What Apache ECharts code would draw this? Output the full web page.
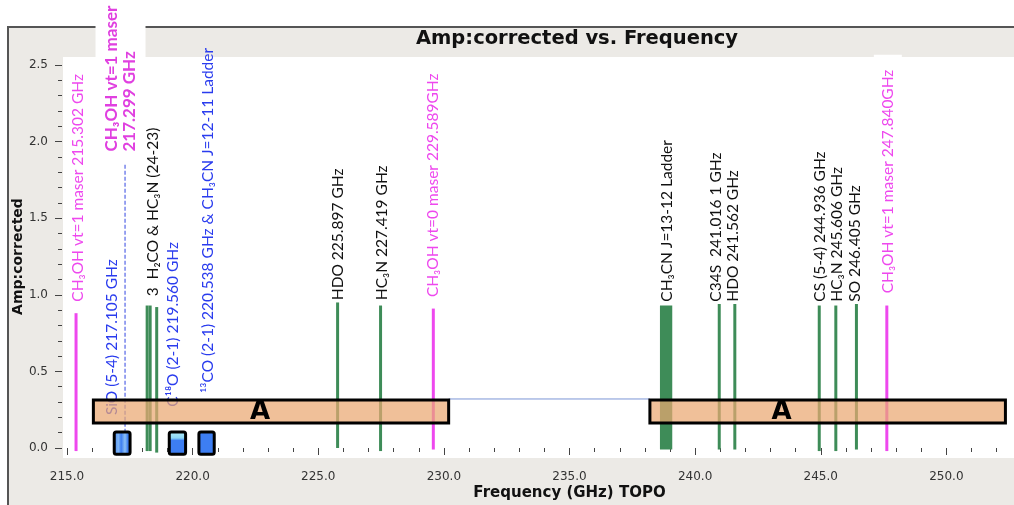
<!DOCTYPE html>
<html><head><meta charset="utf-8">
<script src="https://cdn.jsdelivr.net/npm/echarts@6/dist/echarts.min.js"></script>
<style>
html,body{margin:0;padding:0;background:#fff;}
#wrap{position:relative;width:1014px;height:505px;overflow:hidden;}
#panel{position:absolute;left:7px;top:26px;width:1007px;height:479px;background:#ECEAE6;border-top:2px solid #555;border-left:2px solid #555;box-sizing:border-box;}
#plotbg{position:absolute;left:63px;top:57px;width:951px;height:401px;background:#fff;}
#chart{position:absolute;left:0;top:0;width:1100px;height:505px;}
</style></head>
<body><div id="wrap"><div id="panel"></div><div id="plotbg"></div><div id="chart"></div></div>
<script>
// ---- data (frequency GHz, amplitude) ----
const xRange = [215, 255];   // axis range, tick step 5
const yRange = [0, 2.5];     // axis range, tick step 0.5
const magentaLines = [ // [freq, bottom, top]
  [215.36, -0.02, 0.88],
  [229.58, -0.01, 0.91],
  [247.63, -0.02, 0.93]
];
const greenLines = [
  [218.19, -0.02, 0.93],
  [218.31, -0.02, 0.93],
  [218.57, -0.03, 0.92],
  [225.77, 0.00, 0.95],
  [227.48, -0.02, 0.93],
  [240.96, -0.01, 0.94],
  [241.58, -0.01, 0.94],
  [244.94, -0.02, 0.93],
  [245.60, -0.02, 0.93],
  [246.42, -0.01, 0.94]
];
const greenBands = [[238.60, 239.09, -0.01, 0.93]]; // [f1, f2, bottom, top]
const dashedLines = [[217.31, 0.10, 1.86]];
const spwBoxes = [ // [f1, f2, bottom, top]
  [216.88, 217.51, -0.04, 0.105],
  [219.07, 219.72, -0.04, 0.105],
  [220.25, 220.86, -0.04, 0.105]
];
const bandBoxes = [
  [216.05, 230.19, 0.163, 0.314],
  [238.20, 252.35, 0.163, 0.314]
];
const bandNames = [[222.68, 0.235, 'A'], [243.44, 0.235, 'A']];
const bandLinks = [[230.19, 238.20, 0.32]]; // [f1, f2, amp]
const blackLabels = [ // [freq, amp at text start, text]
  [218.42, 0.99, '3  H₂CO & HC₃N (24-23)'],
  [225.78, 0.965, 'HDO 225.897 GHz'],
  [227.54, 0.965, 'HC₃N 227.419 GHz'],
  [238.88, 0.955, 'CH₃CN J=13-12 Ladder'],
  [240.83, 0.955, 'C34S  241.016 1 GHz'],
  [241.50, 0.955, 'HDO 241.562 GHz'],
  [244.96, 0.955, 'CS (5-4) 244.936 GHz'],
  [245.64, 0.955, 'HC₃N 245.606 GHz'],
  [246.36, 0.955, 'SO 246.405 GHz']
];
const blueLabels = [
  [216.78, 0.215, 'SiO (5-4) 217.105 GHz'],
  [219.22, 0.27, 'C¹⁸O (2-1) 219.560 GHz'],
  [220.61, 0.36, '¹³CO (2-1) 220.538 GHz & CH₃CN J=12-11 Ladder']
];
const magentaLabels = [
  [215.44, 0.955, 'CH₃OH vt=1 maser 215.302 GHz'],
  [229.56, 0.985, 'CH₃OH vt=0 maser 229.589GHz']
];
const boxedMagentaLabels = [
  [247.67, 1.01, 'CH₃OH vt=1 maser 247.840GHz']
];
const boldLabels = [
  [217.13, 1.935, 'CH₃OH vt=1 maser\n217.299 GHz']
];

// ---- styles ----
const GREEN = '#3E8C58', MAGENTA = '#EE48EE', BLUE = '#2A3CEE';
const LABEL_FONT = '15.5px Lato';
const spwFills = [
  {type: 'linear', x: 0, y: 0, x2: 1, y2: 0, colorStops: [
    {offset: 0, color: '#3D7EF2'}, {offset: 0.3, color: '#7FB6F6'}, {offset: 0.45, color: '#3D7EF2'},
    {offset: 0.65, color: '#8CC0F6'}, {offset: 0.8, color: '#3D7EF2'}, {offset: 1, color: '#3D7EF2'}]},
  {type: 'linear', x: 0, y: 0, x2: 0, y2: 1, colorStops: [
    {offset: 0, color: '#B8F0FA'}, {offset: 0.3, color: '#8ED8F5'}, {offset: 0.4, color: '#3D7EF2'}, {offset: 1, color: '#3D7EF2'}]},
  '#3D7EF2'
];

function vlineSeries(arr, color, width, z, dash) {
  return {
    type: 'custom', coordinateSystem: 'cartesian2d', clip: false, silent: true, z: z,
    data: arr,
    renderItem(params, api) {
      const a = api.coord([api.value(0), api.value(1)]);
      const b = api.coord([api.value(0), api.value(2)]);
      return {type: 'line', shape: {x1: a[0], y1: a[1], x2: b[0], y2: b[1]},
        style: {stroke: color, lineWidth: width, lineDash: dash || null}};
    }
  };
}
function rectSeries(arr, styleFn, z, r) {
  return {
    type: 'custom', coordinateSystem: 'cartesian2d', clip: false, silent: true, z: z,
    data: arr,
    renderItem(params, api) {
      const a = api.coord([api.value(0), api.value(3)]);
      const b = api.coord([api.value(1), api.value(2)]);
      return {type: 'rect', shape: {x: a[0], y: a[1], width: b[0] - a[0], height: b[1] - a[1], r: r || 0},
        style: styleFn(params.dataIndex)};
    }
  };
}
function labelSeries(arr, color, font, z, extra) {
  return {
    type: 'custom', coordinateSystem: 'cartesian2d', clip: false, silent: true, z: z,
    data: arr.map(d => [d[0], d[1]]),
    renderItem(params, api) {
      const p = api.coord([api.value(0), api.value(1)]);
      return {type: 'text', x: p[0], y: p[1], rotation: Math.PI / 2,
        style: Object.assign({text: arr[params.dataIndex][2], fill: color, font: font,
          align: 'left', verticalAlign: 'middle'}, extra || {})};
    }
  };
}

const chart = echarts.init(document.getElementById('chart'), null, {renderer: 'canvas'});
chart.setOption({
  animation: false,
  backgroundColor: 'transparent',
  grid: {left: 67, width: 1005, top: 65, bottom: 57, containLabel: false, outerBoundsMode: 'none', show: false},
  graphic: [{
    type: 'text', x: 577, y: 39, z: 10,
    style: {text: 'Amp:corrected vs. Frequency', font: 'bold 19.5px "DejaVu Sans"', fill: '#111',
      align: 'center', verticalAlign: 'middle'}
  }],
  xAxis: {
    type: 'value', min: xRange[0], max: xRange[1], interval: 5, offset: 11,
    name: 'Frequency (GHz) TOPO', nameLocation: 'middle', nameGap: 27, nameMoveOverlap: false,
    nameTextStyle: {fontFamily: 'DejaVu Sans', fontWeight: 'bold', fontSize: 15, color: '#111'},
    axisLine: {show: false},
    axisTick: {show: true, length: 7, lineStyle: {color: '#444'}},
    minorTick: {show: true, splitNumber: 5, length: 4, lineStyle: {color: '#444'}},
    splitLine: {show: false},
    axisLabel: {fontFamily: 'DejaVu Sans', fontSize: 12, color: '#333', margin: 12,
      formatter: v => v.toFixed(1)}
  },
  yAxis: {
    type: 'value', min: yRange[0], max: yRange[1], interval: 0.5, offset: 5,
    name: 'Amp:corrected', nameLocation: 'middle', nameGap: 37, nameMoveOverlap: false,
    nameTextStyle: {fontFamily: 'DejaVu Sans', fontWeight: 'bold', fontSize: 14, color: '#111'},
    axisLine: {show: false},
    axisTick: {show: true, length: 7, lineStyle: {color: '#444'}},
    minorTick: {show: true, splitNumber: 5, length: 4, lineStyle: {color: '#444'}},
    splitLine: {show: false},
    axisLabel: {fontFamily: 'DejaVu Sans', fontSize: 12, color: '#333', margin: 14,
      formatter: v => v.toFixed(1)}
  },
  series: [
    vlineSeries(greenLines, GREEN, 3, 2),
    vlineSeries(magentaLines, MAGENTA, 3, 2),
    rectSeries(greenBands, () => ({fill: GREEN}), 2),
    vlineSeries(dashedLines, '#5565E6', 1.2, 2, [4, 2]),
    labelSeries(blackLabels, '#111', LABEL_FONT, 3),
    labelSeries(blueLabels, BLUE, LABEL_FONT, 3),
    labelSeries(magentaLabels, MAGENTA, LABEL_FONT, 3),
    labelSeries(boxedMagentaLabels, MAGENTA, LABEL_FONT, 3,
      {backgroundColor: '#fff', padding: [6, 15, 6, 0]}),
    labelSeries(boldLabels, '#E040E0', 'bold 17px Lato', 3,
      {backgroundColor: '#fff', padding: [7, 6, 7, 0], lineHeight: 18}),
    {
      type: 'custom', coordinateSystem: 'cartesian2d', clip: false, silent: true, z: 4,
      data: bandLinks,
      renderItem(params, api) {
        const a = api.coord([api.value(0), api.value(2)]);
        const b = api.coord([api.value(1), api.value(2)]);
        return {type: 'line', shape: {x1: a[0], y1: a[1], x2: b[0], y2: b[1]},
          style: {stroke: '#7B96D6', lineWidth: 1}};
      }
    },
    rectSeries(bandBoxes, () => ({fill: 'rgba(234,168,114,0.72)', stroke: '#000', lineWidth: 3}), 5),
    {
      type: 'custom', coordinateSystem: 'cartesian2d', clip: false, silent: true, z: 6,
      data: bandNames.map(d => [d[0], d[1]]),
      renderItem(params, api) {
        const p = api.coord([api.value(0), api.value(1)]);
        return {type: 'text', x: p[0], y: p[1],
          style: {text: bandNames[params.dataIndex][2], font: 'bold 26px "DejaVu Sans"', fill: '#000',
            align: 'center', verticalAlign: 'middle'}};
      }
    },
    rectSeries(spwBoxes, i => ({fill: spwFills[i], stroke: '#000', lineWidth: 3}), 5, 2)
  ]
});
</script>
</body></html>
